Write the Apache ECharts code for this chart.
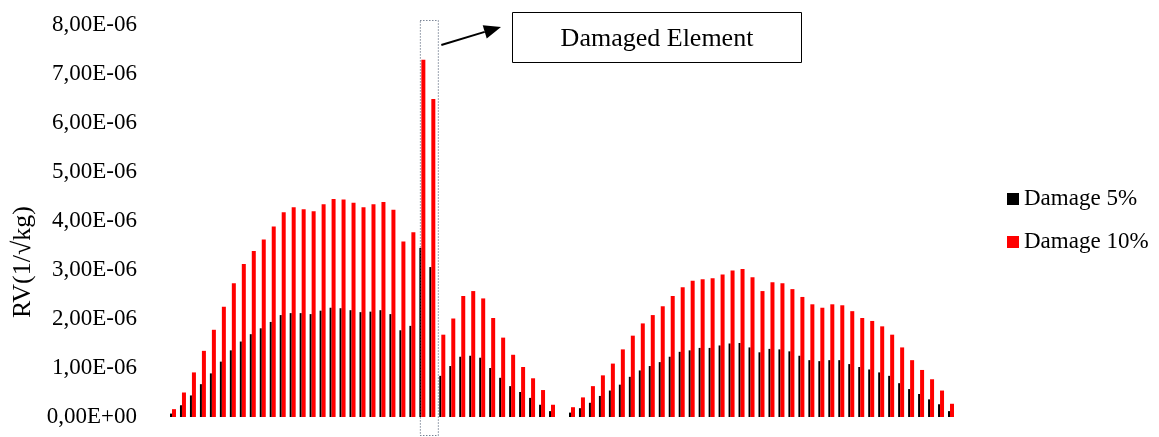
<!DOCTYPE html>
<html>
<head>
<meta charset="utf-8">
<script src="https://cdn.jsdelivr.net/npm/echarts@6/dist/echarts.min.js"></script>
<style>
  html, body { margin: 0; padding: 0; background: #fff; }
  #main { width: 1159px; height: 437px; }
</style>
</head>
<body>
<div id="main"></div>
<script>
// element numbers (hidden on the x axis), 40 is the gap between the two spans
var elements = [1, 2, 3, 4, 5, 6, 7, 8, 9, 10, 11, 12, 13, 14, 15, 16, 17, 18, 19, 20,
  21, 22, 23, 24, 25, 26, 27, 28, 29, 30, 31, 32, 33, 34, 35, 36, 37, 38, 39, 40,
  41, 42, 43, 44, 45, 46, 47, 48, 49, 50, 51, 52, 53, 54, 55, 56, 57, 58, 59, 60,
  61, 62, 63, 64, 65, 66, 67, 68, 69, 70, 71, 72, 73, 74, 75, 76, 77, 78, 79];

// RV values, in units of 1E-06
var damage5 = [0.07, 0.24, 0.44, 0.67, 0.89, 1.13, 1.36, 1.54, 1.69, 1.81,
  1.94, 2.08, 2.12, 2.12, 2.10, 2.17, 2.23, 2.22, 2.18, 2.14,
  2.15, 2.18, 2.10, 1.77, 1.86, 3.45, 3.06, 0.84, 1.04, 1.23,
  1.25, 1.21, 1.00, 0.80, 0.63, 0.51, 0.39, 0.25, 0.12, null,
  0.09, 0.18, 0.29, 0.43, 0.54, 0.66, 0.82, 0.95, 1.04, 1.12,
  1.23, 1.33, 1.36, 1.41, 1.41, 1.46, 1.50, 1.51, 1.42, 1.32,
  1.39, 1.38, 1.34, 1.25, 1.16, 1.14, 1.16, 1.16, 1.08, 1.02,
  0.97, 0.91, 0.84, 0.69, 0.57, 0.47, 0.36, 0.26, 0.12];

var damage10 = [0.16, 0.50, 0.91, 1.35, 1.78, 2.25, 2.73, 3.12, 3.39, 3.62,
  3.89, 4.18, 4.28, 4.24, 4.20, 4.34, 4.45, 4.44, 4.37, 4.28,
  4.34, 4.39, 4.23, 3.58, 3.77, 7.29, 6.49, 1.68, 2.01, 2.47,
  2.57, 2.42, 2.02, 1.62, 1.27, 1.02, 0.79, 0.55, 0.25, null,
  0.20, 0.40, 0.63, 0.85, 1.09, 1.38, 1.66, 1.91, 2.08, 2.26,
  2.47, 2.65, 2.78, 2.81, 2.83, 2.91, 2.99, 3.02, 2.85, 2.57,
  2.75, 2.73, 2.61, 2.45, 2.30, 2.23, 2.30, 2.28, 2.16, 2.02,
  1.96, 1.85, 1.68, 1.42, 1.16, 0.96, 0.77, 0.54, 0.27];

var damagedIdx = [25, 26]; // the two tall bars inside the dotted box

var FONT = 'Liberation Serif';
var chart = echarts.init(document.getElementById('main'));

var option = {
  animation: false,
  backgroundColor: '#fff',
  grid: { left: 168, right: 203, top: 25, bottom: 20 },
  legend: {
    data: ['Damage 5%', 'Damage 10%'],
    orient: 'vertical',
    left: 1007,
    top: 187,
    padding: 0,
    itemGap: 19,
    itemWidth: 12,
    itemHeight: 12,
    icon: 'rect',
    textStyle: { fontFamily: FONT, fontSize: 23, color: '#000', lineHeight: 24 }
  },
  xAxis: {
    type: 'category',
    data: elements,
    axisLine: { show: false },
    axisTick: { show: false },
    axisLabel: { show: false },
    splitLine: { show: false }
  },
  yAxis: {
    type: 'value',
    min: 0,
    max: 8,
    interval: 1,
    name: 'RV(1/√kg)',
    nameLocation: 'middle',
    nameRotate: 90,
    nameGap: 131,
    nameTextStyle: { fontFamily: FONT, fontSize: 26, color: '#000', padding: [0, 82, 0, 0] },
    axisLine: { show: false },
    axisTick: { show: false },
    splitLine: { show: false },
    axisLabel: {
      margin: 31,
      fontFamily: FONT,
      fontSize: 23,
      color: '#000',
      formatter: function (v) {
        if (v === 0) return '0,00E+00';
        return v.toFixed(2).replace('.', ',') + 'E-06';
      }
    }
  },
  series: [
    { name: 'Damage 5%', type: 'bar', data: damage5, barWidth: 2, barGap: '0%',
      itemStyle: { color: '#000' } },
    { name: 'Damage 10%', type: 'bar', data: damage10, barWidth: 4, barGap: '0%',
      itemStyle: { color: '#ff0000' } }
  ]
};
chart.setOption(option);

// dotted box around the damaged element + the callout
var c1 = chart.convertToPixel({ xAxisIndex: 0 }, damagedIdx[0]);
var c2 = chart.convertToPixel({ xAxisIndex: 0 }, damagedIdx[1]);
var boxL = c1 - 2, boxR = c2 + 6;
var ax = boxR + 3, ay = 45, bx = 501, by = 27;
var ang = Math.atan2(by - ay, bx - ax);
var hl = 17, hw = 7;
var baseX = bx - hl * Math.cos(ang), baseY = by - hl * Math.sin(ang);

chart.setOption({
  graphic: [
    { type: 'rect', shape: { x: boxL, y: 20.5, width: boxR - boxL, height: 415 },
      style: { fill: 'none', stroke: '#3b4a63', lineWidth: 1, lineDash: [1, 2] }, z: 10 },
    { type: 'line', shape: { x1: ax, y1: ay, x2: baseX, y2: baseY },
      style: { stroke: '#000', lineWidth: 2 }, z: 10 },
    { type: 'polygon', shape: { points: [
        [bx, by],
        [baseX - hw * Math.sin(ang), baseY + hw * Math.cos(ang)],
        [baseX + hw * Math.sin(ang), baseY - hw * Math.cos(ang)]
      ] }, style: { fill: '#000' }, z: 10 },
    { type: 'rect', shape: { x: 512.5, y: 12.5, width: 289, height: 50 },
      style: { fill: '#fff', stroke: '#000', lineWidth: 1 }, z: 10 },
    { type: 'text', x: 657, y: 39, z: 11,
      style: { text: 'Damaged Element', fontFamily: FONT, fontSize: 26, fill: '#000',
        textAlign: 'center', textVerticalAlign: 'middle' } }
  ]
});
</script>
</body>
</html>
